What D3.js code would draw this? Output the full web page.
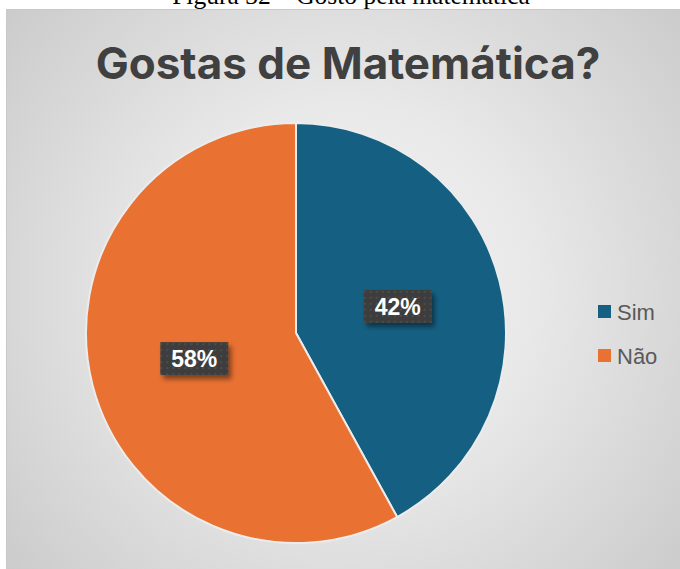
<!DOCTYPE html>
<html>
<head>
<meta charset="utf-8">
<script src="https://cdn.jsdelivr.net/npm/d3@7"></script>
<style>
  body { margin: 0; background: #fff; }
  svg { display: block; }
</style>
</head>
<body>
<script>
// data
var categories = ['Sim', 'Não']
var values = [42, 58]
var colors = ['#156082', '#e97132']
var title = 'Gostas de Matemática?'
var caption = 'Figura 32 – Gosto pela matemática'

var width = 680,
    height = 569

var svg = d3.select('body').append('svg')
    .attr('width', width)
    .attr('height', height)

var defs = svg.append('defs')

var grad = defs.append('radialGradient')
    .attr('id', 'bg')
    .attr('gradientUnits', 'userSpaceOnUse')
    .attr('cx', 345).attr('cy', 290).attr('r', 520)
grad.append('stop').attr('offset', 0).attr('stop-color', '#f2f2f2')
grad.append('stop').attr('offset', 0.35).attr('stop-color', '#e9e9e9')
grad.append('stop').attr('offset', 1).attr('stop-color', '#c2c2c2')

var pat = defs.append('pattern')
    .attr('id', 'dots')
    .attr('patternUnits', 'userSpaceOnUse')
    .attr('width', 6).attr('height', 6)
pat.append('rect').attr('width', 6).attr('height', 6).attr('fill', '#3e3e3e')
pat.append('rect').attr('x', 2).attr('y', 2).attr('width', 2).attr('height', 2).attr('fill', '#4c4c4c')

var shadow = defs.append('filter').attr('id', 'shadow')
    .attr('x', '-20%').attr('y', '-20%').attr('width', '150%').attr('height', '160%')
shadow.append('feDropShadow')
    .attr('dx', 3).attr('dy', 4).attr('stdDeviation', 2.5)
    .attr('flood-color', '#000').attr('flood-opacity', 0.45)

// caption, cut off at the top of the page as in the source
svg.append('text')
    .attr('x', 351).attr('y', 3.5)
    .attr('text-anchor', 'middle')
    .attr('font-family', 'Liberation Serif, Times New Roman, serif')
    .attr('font-size', 25.5)
    .attr('fill', '#000')
    .text(caption)

// chart area
svg.append('rect')
    .attr('x', 6.5).attr('y', 9.5)
    .attr('width', 700).attr('height', 600)
    .attr('fill', 'url(#bg)')
    .attr('stroke', '#c8c8c8')

svg.append('text')
    .attr('x', 348).attr('y', 79)
    .attr('text-anchor', 'middle')
    .attr('font-family', 'Inter, Open Sans, sans-serif')
    .attr('font-weight', 700)
    .attr('font-size', 44)
    .attr('fill', '#404040')
    .text(title)

var cx = 296, cy = 333, radius = 210

var pie = d3.pie().sort(null).value(d => d)
var arc = d3.arc().innerRadius(0).outerRadius(radius)
var labelArc = d3.arc().innerRadius(radius * 0.5).outerRadius(radius * 0.5)
var color = d3.scaleOrdinal().domain(categories).range(colors)

var g = svg.append('g').attr('transform', 'translate(' + cx + ',' + cy + ')')
var arcs = pie(values)

g.selectAll('path')
    .data(arcs).enter()
    .append('path')
    .attr('d', arc)
    .attr('fill', (d, i) => color(categories[i]))
    .attr('stroke', '#ececec')
    .attr('stroke-width', 2)

var total = d3.sum(values)
var labels = g.selectAll('g.lbl')
    .data(arcs).enter()
    .append('g')
    .attr('class', 'lbl')
    .attr('transform', d => 'translate(' + labelArc.centroid(d) + ')')

labels.append('rect')
    .attr('x', -34).attr('y', -17)
    .attr('width', 68).attr('height', 33)
    .attr('fill', 'url(#dots)')
    .attr('filter', 'url(#shadow)')

labels.append('text')
    .attr('text-anchor', 'middle')
    .attr('dy', 8)
    .attr('font-family', 'Liberation Sans, Arial, sans-serif')
    .attr('font-weight', 700)
    .attr('font-size', 23)
    .attr('fill', '#fff')
    .text(d => Math.round(d.value / total * 100) + '%')

// legend
var legend = svg.append('g').attr('transform', 'translate(598,312)')
var item = legend.selectAll('g')
    .data(categories).enter()
    .append('g')
    .attr('transform', (d, i) => 'translate(0,' + i * 44 + ')')
item.append('rect')
    .attr('x', 0).attr('y', -7)
    .attr('width', 13).attr('height', 13)
    .attr('fill', d => color(d))
item.append('text')
    .attr('x', 19).attr('y', 7.5)
    .attr('font-family', 'Liberation Sans, Arial, sans-serif')
    .attr('font-size', 22)
    .attr('fill', '#595959')
    .text(d => d)
</script>
</body>
</html>
